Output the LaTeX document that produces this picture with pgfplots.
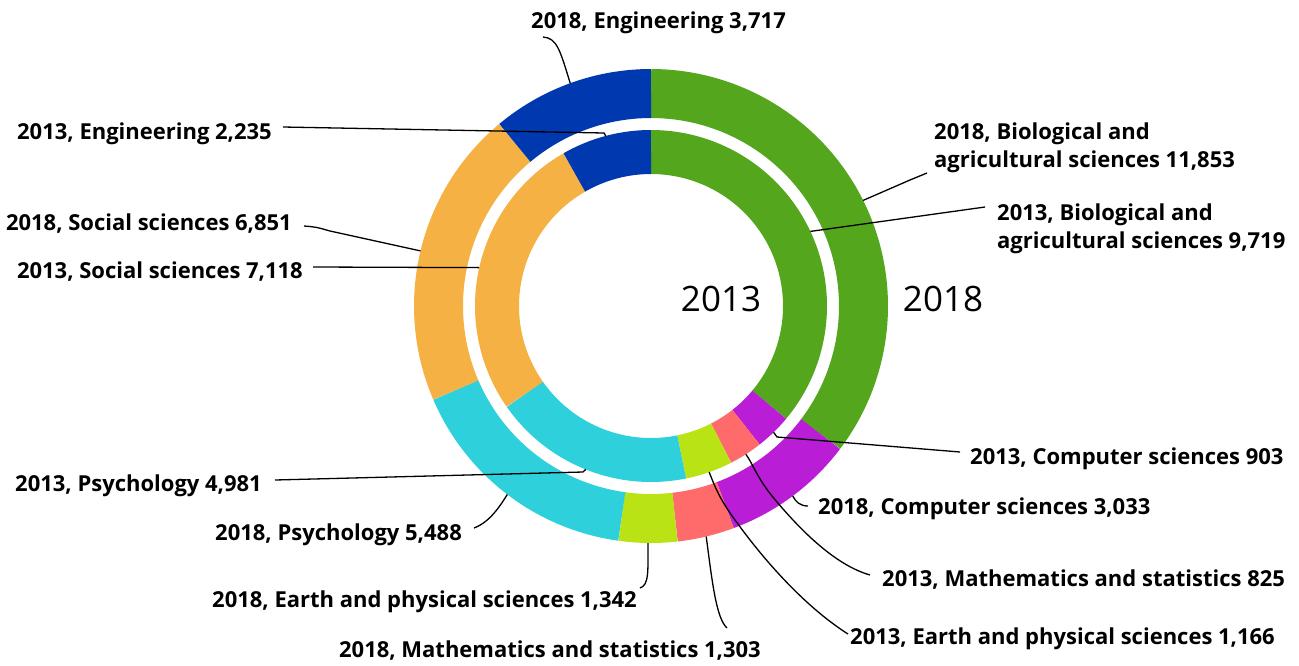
\documentclass[border=0pt]{standalone}
\usepackage{fontspec}
\setmainfont{Open Sans}
\usepackage{pgfplots}
\pgfplotsset{compat=1.18}
\definecolor{cBio}{RGB}{84,166,28}
\definecolor{cCS}{RGB}{185,29,214}
\definecolor{cMath}{RGB}{255,106,106}
\definecolor{cEarth}{RGB}{186,227,22}
\definecolor{cPsy}{RGB}{46,209,219}
\definecolor{cSoc}{RGB}{245,177,67}
\definecolor{cEng}{RGB}{0,56,176}
\tikzset{
  leader/.style={draw=black, line width=1.3pt},
  lab/.style={font=\bfseries\fontsize{22}{28}\selectfont, inner sep=0pt},
}
% radius, width, colour, cumulative start, cumulative end, total
\newcommand{\slice}[6]{%
  \addplot[draw=#3, line width=#2pt, line cap=butt, domain=\fpeval{round(360*(#4)/(#6),4)}:\fpeval{round(360*(#5)/(#6),4)}, samples=120]
  ({651+#1*sin(x)},{306-#1*cos(x)});}
\newcommand{\TA}{26947}% total 2013
\newcommand{\TB}{33587}% total 2018
\begin{document}
\begin{tikzpicture}
\begin{axis}[
  width=1299pt, height=665pt, scale only axis,
  xmin=0, xmax=1299, ymin=0, ymax=665, y dir=reverse,
  axis lines=none, clip=false,
]
% ---- 2013 (inner ring) ----
\slice{154}{44}{cBio}{0}{9719}{\TA}
\slice{154}{44}{cCS}{9719}{9719+903}{\TA}
\slice{154}{44}{cMath}{9719+903}{9719+903+825}{\TA}
\slice{154}{44}{cEarth}{9719+903+825}{9719+903+825+1166}{\TA}
\slice{154}{44}{cPsy}{9719+903+825+1166}{9719+903+825+1166+4981}{\TA}
\slice{154}{44}{cSoc}{9719+903+825+1166+4981}{9719+903+825+1166+4981+7118}{\TA}
\slice{154}{44}{cEng}{9719+903+825+1166+4981+7118}{9719+903+825+1166+4981+7118+2235}{\TA}
% ---- 2018 (outer ring) ----
\slice{212.5}{49}{cBio}{0}{11853}{\TB}
\slice{212.5}{49}{cCS}{11853}{11853+3033}{\TB}
\slice{212.5}{49}{cMath}{11853+3033}{11853+3033+1303}{\TB}
\slice{212.5}{49}{cEarth}{11853+3033+1303}{11853+3033+1303+1342}{\TB}
\slice{212.5}{49}{cPsy}{11853+3033+1303+1342}{11853+3033+1303+1342+5488}{\TB}
\slice{212.5}{49}{cSoc}{11853+3033+1303+1342+5488}{11853+3033+1303+1342+5488+6851}{\TB}
\slice{212.5}{49}{cEng}{11853+3033+1303+1342+5488+6851}{11853+3033+1303+1342+5488+6851+3717}{\TB}
% centre labels
\node[font=\fontsize{35}{40}\selectfont, inner sep=0pt] at (axis cs:721,299) {2013};
\node[font=\fontsize{35}{40}\selectfont, inner sep=0pt] at (axis cs:943,299) {2018};
% leader lines
\draw[leader] (axis cs:570.2,83.2) .. controls (axis cs:560,50) and (axis cs:557,38) .. (axis cs:543,37);
\draw[leader] (axis cs:283,127) -- (axis cs:604,133) -- (axis cs:605.7,135.9);
\draw[leader] (axis cs:304,226) .. controls (axis cs:316,227) .. (axis cs:330,231) -- (axis cs:420.5,250.9);
\draw[leader] (axis cs:313,267) -- (axis cs:479.2,267.6);
\draw[leader] (axis cs:275,480) -- (axis cs:583,472) -- (axis cs:585.7,469.4);
\draw[leader] (axis cs:474,528) .. controls (axis cs:490,522) and (axis cs:500,506) .. (axis cs:507.3,494.5);
\draw[leader] (axis cs:640,588) .. controls (axis cs:649,585) and (axis cs:648,572) .. (axis cs:648,543);
\draw[leader] (axis cs:706.2,536.5) .. controls (axis cs:712,580) and (axis cs:716,618) .. (axis cs:727,628);
\draw[leader] (axis cs:709.2,472.1) .. controls (axis cs:716,490) and (axis cs:722,503) .. (axis cs:738,524) .. controls (axis cs:770,568) and (axis cs:810,610) .. (axis cs:848,634);
\draw[leader] (axis cs:745.8,454.3) .. controls (axis cs:752,462) and (axis cs:756,476) .. (axis cs:772,496) .. controls (axis cs:800,530) and (axis cs:835,565) .. (axis cs:870,575);
\draw[leader] (axis cs:792.7,496) .. controls (axis cs:796,502) and (axis cs:800,506) .. (axis cs:808,506);
\draw[leader] (axis cs:773.6,432.3) -- (axis cs:777,437) -- (axis cs:960,452);
\draw[leader] (axis cs:863.1,200.4) -- (axis cs:910,180) .. controls (axis cs:918,176) .. (axis cs:927,173);
\draw[leader] (axis cs:810.4,231.4) -- (axis cs:985,207);
% labels
\node[lab, anchor=base] at (axis cs:658.5,28) {2018, Engineering 3,717};
\node[lab, anchor=base east] at (axis cs:272,139) {2013, Engineering 2,235};
\node[lab, anchor=base east] at (axis cs:292,230) {2018, Social sciences 6,851};
\node[lab, anchor=base east] at (axis cs:303,278) {2013, Social sciences 7,118};
\node[lab, anchor=base east] at (axis cs:262,491) {2013, Psychology 4,981};
\node[lab, anchor=base east] at (axis cs:462,540) {2018, Psychology 5,488};
\node[lab, anchor=base east] at (axis cs:637,607) {2018, Earth and physical sciences 1,342};
\node[lab, anchor=base east] at (axis cs:761,657) {2018, Mathematics and statistics 1,303};
\node[lab, anchor=base west] at (axis cs:850,644) {2013, Earth and physical sciences 1,166};
\node[lab, anchor=base west] at (axis cs:882,586) {2013, Mathematics and statistics 825};
\node[lab, anchor=base west] at (axis cs:818,514) {2018, Computer sciences 3,033};
\node[lab, anchor=base west] at (axis cs:970,464) {2013, Computer sciences 903};
\node[lab, anchor=base west] at (axis cs:934,139) {2018, Biological and};
\node[lab, anchor=base west] at (axis cs:934,167) {agricultural sciences 11,853};
\node[lab, anchor=base west] at (axis cs:997,220) {2013, Biological and};
\node[lab, anchor=base west] at (axis cs:997,248) {agricultural sciences 9,719};
\end{axis}
\pgfresetboundingbox
\path (current axis.south west) rectangle (current axis.north east);
\end{tikzpicture}
\end{document}
